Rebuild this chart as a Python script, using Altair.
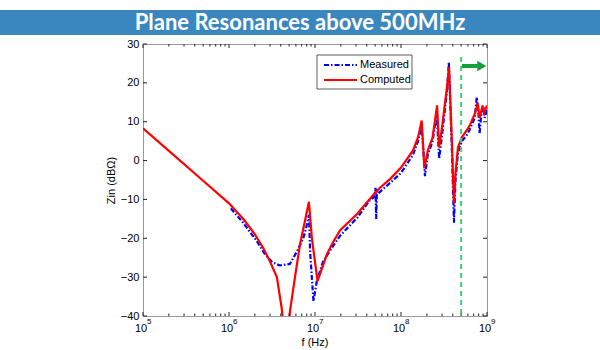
import altair as alt
import pandas as pd

# ---------------- data ----------------
title_text = "Plane Resonances above 500MHz"
series_names = ["Measured", "Computed"]
series_colors = ["#0000ff", "#ff0000"]
series_dashes = [[5, 2, 1.5, 2], [1, 0]]

comp_f = [1e5, 2e5, 5e5, 1e6, 1.5e6, 2e6, 2.5e6, 3e6, 3.6e6, 4.1e6, 4.4e6, 4.8e6, 5.1e6,
          5.85e6, 6.7e6, 7.65e6, 8.5e6, 9.2e6, 1.07e7, 1.38e7, 1.62e7, 1.95e7, 3.1e7, 4.7e7,
          5.7e7, 7.5e7, 1e8, 1.38e8, 1.58e8, 1.74e8, 1.87e8, 2.05e8, 2.33e8, 2.63e8, 2.77e8,
          2.97e8, 3.43e8, 3.62e8, 3.9e8, 4.13e8, 4.3e8, 4.6e8, 5.1e8, 5.8e8, 6.3e8, 7.2e8,
          7.8e8, 8.2e8, 8.9e8, 9.3e8, 1e9]
comp_db = [8.3, 2.5, -5.2, -11, -15.3, -19, -22.5, -26, -30, -38, -45, -50, -39,
           -30, -21.5, -15.5, -10.6, -20, -31, -24, -21, -18, -13.7, -9,
           -7, -4.7, -1.8, 2.6, 6, 10.3, -2, 2.6, 6, 14.2, 3.4,
           7.8, 19, 24, 5.2, -11, -3.4, 3.4, 6, 7.8, 9, 12,
           14.7, 10.9, 14.2, 12.4, 14.2]

meas_f = [1.05e6, 1.46e6, 2.1e6, 2.6e6, 3.2e6, 3.9e6, 5.1e6, 6.2e6, 7.3e6, 8e6, 8.5e6, 8.8e6,
          9.6e6, 1.05e7, 1.24e7, 1.62e7, 1.95e7, 3.1e7, 4.3e7, 4.9e7, 5.05e7, 5.15e7, 5.25e7,
          5.4e7, 7.5e7, 1e8, 1.38e8, 1.58e8, 1.72e8, 1.78e8, 1.9e8, 2.05e8, 2.33e8, 2.6e8,
          2.78e8, 3e8, 3.43e8, 3.6e8, 3.9e8, 4.13e8, 4.3e8, 4.6e8, 5.1e8, 5.8e8, 6.3e8,
          7.2e8, 7.6e8, 7.9e8, 8.2e8, 8.6e8, 9e8, 9.4e8, 1e9]
meas_db = [-12.3, -16, -20.7, -24, -26.2, -27, -26.6, -23.3, -20, -16.8, -14, -24,
           -36.2, -31, -26, -22, -19.4, -14.7, -10.3, -9.3, -7, -15, -8,
           -8.5, -5.7, -3.2, 1.5, 5, 8.5, 6, -4, 1.5, 5, 12,
           0.5, 6.5, 18, 25.3, 3, -16, -5, 2, 5, 6.5, 8,
           11, 16.3, 13, 7, 12, 14, 11, 13]

x_major = [1e5, 1e6, 1e7, 1e8, 1e9]
x_exp = ["5", "6", "7", "8", "9"]
x_minor = [k * 10 ** d for d in range(5, 9) for k in range(2, 10)]
y_ticks = [-40, -30, -20, -10, 0, 10, 20, 30]
cutoff_f = [5e8]
arrow_f = [5.1e8, 7.8e8]
arrow_head_f = [8.7e8]

# ---------------- layout ----------------
W, H = 344, 272
PAD_L, PAD_T = 143, 44
FONT = "Liberation Sans"

xs = alt.Scale(type="log", domain=[1e5, 1e9])
ys = alt.Scale(domain=[-40, 30])


def X(field):
    return alt.X(field, scale=xs, axis=None)


def Y(field):
    # identical axis definition on every layer so that the layers merge cleanly
    return alt.Y(field, scale=ys, axis=alt.Axis(
        values=y_ticks, ticks=False, domain=False, grid=False, labelPadding=4,
        labelFont=FONT, labelFontSize=11, labelColor="black",
        title="Zin (dBΩ)", titleFont=FONT, titleFontSize=11,
        titleFontWeight="normal", titleColor="black", titlePadding=4))


meas_df = pd.DataFrame({"f": meas_f, "db": meas_db})
comp_df = pd.DataFrame({"f": comp_f, "db": comp_db})

meas_line = alt.Chart(meas_df).mark_line(
    clip=True, strokeWidth=2.2, color=series_colors[0], strokeDash=series_dashes[0]).encode(
    x=X("f:Q"), y=Y("db:Q"))
comp_line = alt.Chart(comp_df).mark_line(
    clip=True, strokeWidth=2.2, color=series_colors[1]).encode(
    x=X("f:Q"), y=Y("db:Q"))

one = pd.DataFrame({"t": [title_text]})

# banner
banner = alt.Chart(one).mark_rect(color="#3a87bf").encode(
    x=alt.value(-PAD_L), x2=alt.value(600 - PAD_L),
    y=alt.value(-34), y2=alt.value(-9))
banner_text = alt.Chart(one).mark_text(
    font="Lato", fontWeight="bold", fontSize=22, color="white",
    align="center", baseline="middle").encode(
    x=alt.value(300 - PAD_L), y=alt.value(-21.5), text="t:N")

# ticks
xmin_df = pd.DataFrame({"f": x_minor})
xmaj_df = pd.DataFrame({"f": x_major, "e": x_exp, "b": ["10"] * len(x_major)})
y_df = pd.DataFrame({"v": y_ticks})
tick_col = "#222222"

xt_top_min = alt.Chart(xmin_df).mark_rule(color=tick_col).encode(
    x=X("f:Q"), y=alt.value(0), y2=alt.value(2.5))
xt_bot_min = alt.Chart(xmin_df).mark_rule(color=tick_col).encode(
    x=X("f:Q"), y=alt.value(H - 2.5), y2=alt.value(H))
xt_top_maj = alt.Chart(xmaj_df).mark_rule(color=tick_col).encode(
    x=X("f:Q"), y=alt.value(0), y2=alt.value(4))
xt_bot_maj = alt.Chart(xmaj_df).mark_rule(color=tick_col).encode(
    x=X("f:Q"), y=alt.value(H - 4), y2=alt.value(H))
yt_left = alt.Chart(y_df).mark_rule(color=tick_col).encode(
    y=Y("v:Q"), x=alt.value(0), x2=alt.value(4))
yt_right = alt.Chart(y_df).mark_rule(color=tick_col).encode(
    y=Y("v:Q"), x=alt.value(W - 4), x2=alt.value(W))

# x labels 10^n
xlab_base = alt.Chart(xmaj_df).mark_text(
    font=FONT, fontSize=11, color="black", align="center", baseline="middle", dx=-2).encode(
    x=X("f:Q"), y=alt.value(H + 12.5), text="b:N")
xlab_exp = alt.Chart(xmaj_df).mark_text(
    font=FONT, fontSize=8, color="black", align="left", baseline="middle", dx=4).encode(
    x=X("f:Q"), y=alt.value(H + 6), text="e:N")
xtitle = alt.Chart(pd.DataFrame({"t": ["f (Hz)"]})).mark_text(
    font=FONT, fontSize=11, color="black", align="center", baseline="middle").encode(
    x=alt.value(W / 2), y=alt.value(H + 27), text="t:N")

# cutoff line and arrow
cut = alt.Chart(pd.DataFrame({"f": cutoff_f})).mark_rule(
    color="#3fd07a", strokeWidth=2, strokeDash=[5, 4]).encode(
    x=X("f:Q"), y=alt.value(13), y2=alt.value(H))
arrow_shaft = alt.Chart(pd.DataFrame({"a": [arrow_f[0]], "b": [arrow_f[1]]})).mark_rule(
    color="#13a03c", strokeWidth=4).encode(
    x=X("a:Q"), x2="b:Q", y=alt.value(22))
arrow_head = alt.Chart(pd.DataFrame({"f": arrow_head_f})).mark_point(
    shape="triangle-right", filled=True, color="#13a03c", size=110, opacity=1).encode(
    x=X("f:Q"), y=alt.value(22))

# legend (box, sample lines, labels)
leg_box = alt.Chart(one).mark_rect(fill="white", stroke="#333333", strokeWidth=0.8).encode(
    x=alt.value(174), x2=alt.value(269), y=alt.value(11), y2=alt.value(45))
leg_rows = []
for i, name in enumerate(series_names):
    d = pd.DataFrame({"series": [name]})
    yy = 21 + 15 * i
    leg_rows.append(alt.Chart(d).mark_rule(
        strokeWidth=2.2, color=series_colors[i], strokeDash=series_dashes[i]).encode(
        x=alt.value(181), x2=alt.value(214), y=alt.value(yy)))
    leg_rows.append(alt.Chart(d).mark_text(
        font=FONT, fontSize=11, color="black", align="left", baseline="middle").encode(
        x=alt.value(217), y=alt.value(yy), text="series:N"))

chart = alt.layer(
    meas_line, comp_line,
    banner, banner_text,
    cut,
    xt_top_min, xt_bot_min, xt_top_maj, xt_bot_maj, yt_left, yt_right,
    xlab_base, xlab_exp, xtitle,
    arrow_shaft, arrow_head,
    leg_box, *leg_rows,
).properties(
    width=W, height=H,
    padding={"left": PAD_L, "top": PAD_T, "right": 600 - PAD_L - W, "bottom": 350 - PAD_T - H},
    autosize=alt.AutoSizeParams(type="none"),
    background="white",
).configure_view(stroke="#9a9a9a", strokeWidth=1)

chart.save("out.html", embed_options={"renderer": "svg", "actions": False})
